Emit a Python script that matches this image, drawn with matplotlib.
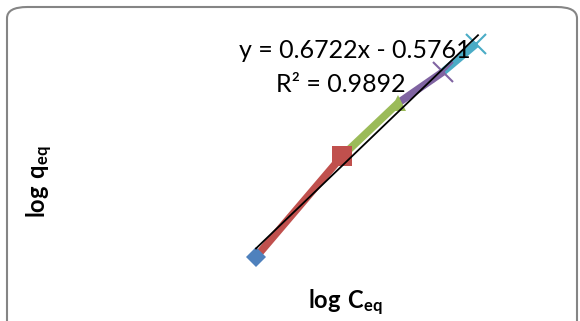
import matplotlib.pyplot as plt
from matplotlib.patches import FancyBboxPatch
import numpy as np

plt.rcParams['font.family'] = ['Lato', 'DejaVu Sans']
plt.rcParams['mathtext.fontset'] = 'custom'
plt.rcParams['mathtext.rm'] = 'Lato'
plt.rcParams['mathtext.bf'] = 'Lato:bold'

# log Ceq / log qeq for the five points (no tick labels)
log_ceq = [0.82, 1.68, 2.24, 2.69, 3.02]
log_qeq = [-0.095, 0.609, 0.979, 1.197, 1.391]
colors = ['#4F81BD', '#C0504D', '#9BBB59', '#8064A2', '#4BACC6']
markers = ['D', 's', '^', 'x', 'x']
msizes = [10, 14, 12, 14, 14]

equation = "y = 0.6722x - 0.5761"
r_squared = "R² = 0.9892"

fig = plt.figure(figsize=(5.8, 3.21), dpi=100)

# rounded chart frame, like Excel's chart area
frame = FancyBboxPatch((7 / 580, -0.2), 570 / 580, 1.2 - 7 / 321,
                       boxstyle="round,pad=0,rounding_size=0.035",
                       transform=fig.transFigure, fill=False,
                       edgecolor='#858585', linewidth=1.5)
fig.patches.append(frame)

ax = fig.add_axes([60 / 580, 41 / 321, 500 / 580, 260 / 321])
ax.set_xlim(-1.14, 3.86)
ax.set_ylim(-0.255, 1.559)
ax.axis('off')

# each series runs from the previous point to its own point
for i in range(1, len(log_ceq)):
    ax.plot(log_ceq[i - 1:i + 1], log_qeq[i - 1:i + 1], color=colors[i],
            linewidth=5.5, solid_capstyle='butt', zorder=2)

# linear trendline
slope, icpt = np.polyfit(log_ceq, log_qeq, 1)
xs = np.array([log_ceq[0], log_ceq[-1] + 0.02])
ax.plot(xs, slope * xs + icpt, color='black', linewidth=1.3, zorder=4)

for i in range(len(log_ceq)):
    mew = 1.5 if markers[i] == 'x' else 0
    ax.plot(log_ceq[i], log_qeq[i], marker=markers[i], color=colors[i],
            markersize=msizes[i], markeredgewidth=mew, linestyle='none',
            zorder=3)

fig.text(355 / 580, 1 - 50 / 321, equation, fontsize=18,
         ha='center', va='center')
fig.text(341 / 580, 1 - 84 / 321, r_squared, fontsize=18,
         ha='center', va='center')

fig.text(40 / 580, 1 - 182 / 321, r'$\mathbf{log\ q_{eq}}$', fontsize=17,
         rotation=90, ha='center', va='center')
fig.text(345 / 580, 1 - 303 / 321, r'$\mathbf{log\ C_{eq}}$', fontsize=17,
         ha='center', va='center')

fig.savefig('out.png', dpi=100)
